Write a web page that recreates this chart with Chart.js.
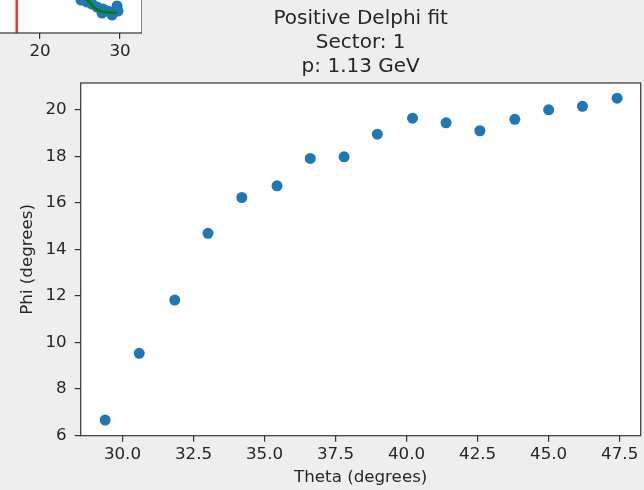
<!DOCTYPE html>
<html>
<head>
<meta charset="utf-8">
<script src="https://cdn.jsdelivr.net/npm/chart.js@4/dist/chart.umd.min.js"></script>
<style>
  html, body { margin: 0; padding: 0; background: #eeeeee; overflow: hidden; }
  #wrap { position: relative; width: 644px; height: 490px; }
  #mainChart { position: absolute; left: 0; top: 0; }
  #insetChart { position: absolute; left: -40px; top: -87px; }
</style>
</head>
<body>
<div id="wrap">
  <canvas id="mainChart" width="644" height="490"></canvas>
  <canvas id="insetChart" width="182" height="160"></canvas>
</div>
<script>
// main plot: phi vs theta
const thetas = [29.39, 30.59, 31.84, 33.01, 34.20, 35.44, 36.61, 37.80, 38.97, 40.21, 41.39, 42.58, 43.81, 45.00, 46.19, 47.41];
const phis = [6.66, 9.53, 11.82, 14.69, 16.23, 16.73, 17.91, 17.98, 18.95, 19.64, 19.44, 19.10, 19.59, 20.00, 20.15, 20.50];
const xTicks = [30, 32.5, 35, 37.5, 40, 42.5, 45, 47.5];
const yTicks = [6, 8, 10, 12, 14, 16, 18, 20];
const titleLines = ['Positive Delphi fit', 'Sector: 1', 'p: 1.13 GeV'];

// cropped neighbour plot at the top left
const insetThetas = [25.13, 25.88, 26.5, 27.13, 27.88, 28.5, 29.13, 29.63, 29.75, 29.0, 27.75];
const insetPhis = [6.6, 6.2, 5.8, 5.2, 4.8, 4.4, 4.2, 5.4, 4.4, 3.6, 4.0];
const insetFitX = [25.63, 26.25, 27.0, 28.0, 29.63];
const insetFitY = [7.0, 6.0, 4.8, 4.2, 4.0];
const insetCut = 17.09;
const insetTicks = [20, 30];

const FONT = 'DejaVu Sans';
const INK = '#262626';
const BLUE = '#1f77b4';

const framePlugin = {
  id: 'frame',
  beforeDatasetsDraw(chart) {
    const a = chart.chartArea, c = chart.ctx;
    c.save();
    c.fillStyle = '#ffffff';
    c.fillRect(a.left, a.top, a.right - a.left, a.bottom - a.top);
    c.restore();
  },
  afterDraw(chart) {
    const a = chart.chartArea, c = chart.ctx;
    c.save();
    c.strokeStyle = '#333333';
    c.lineWidth = 1.2;
    c.strokeRect(a.left, a.top, a.right - a.left, a.bottom - a.top);
    c.restore();
  }
};

// fixed axis sizes, no extra label padding
function fixHeight(h) {
  return s => { s.height = h; s.paddingLeft = 0; s.paddingRight = 0; };
}
function fixWidth(w) {
  return s => { s.width = w; s.paddingTop = 0; s.paddingBottom = 0; };
}

const tickFont = { family: FONT, size: 16.7, lineHeight: 1.2 };

new Chart(document.getElementById('mainChart'), {
  type: 'scatter',
  data: {
    datasets: [{
      data: thetas.map((t, i) => ({ x: t, y: phis[i] })),
      backgroundColor: BLUE,
      borderWidth: 0,
      pointRadius: 5.5
    }]
  },
  options: {
    responsive: false,
    animation: false,
    layout: { autoPadding: false, padding: { left: 0, right: 3.3, top: 0, bottom: 0 } },
    plugins: {
      legend: { display: false },
      tooltip: { enabled: false },
      title: {
        display: true,
        text: titleLines,
        fullSize: false,
        color: INK,
        font: { family: FONT, size: 20, weight: 'normal', lineHeight: 1.2 },
        padding: { top: 7, bottom: 4 }
      }
    },
    scales: {
      x: {
        type: 'linear',
        min: 28.53,
        max: 48.24,
        afterFit: fixHeight(54.3),
        afterBuildTicks: s => { s.ticks = xTicks.map(v => ({ value: v })); },
        grid: { drawOnChartArea: false, drawTicks: true, tickLength: 6, color: '#333333', lineWidth: 1.2 },
        border: { display: false },
        ticks: { padding: 3, color: INK, font: tickFont, callback: v => v.toFixed(1) },
        title: { display: true, text: 'Theta (degrees)', color: INK, font: tickFont, padding: { top: 0, bottom: 2 } }
      },
      y: {
        type: 'linear',
        min: 5.987,
        max: 21.153,
        afterFit: fixWidth(80.7),
        afterBuildTicks: s => { s.ticks = yTicks.map(v => ({ value: v })); },
        grid: { drawOnChartArea: false, drawTicks: true, tickLength: 6, color: '#333333', lineWidth: 1.2 },
        border: { display: false },
        ticks: { padding: 8, color: INK, font: tickFont },
        title: { display: true, text: 'Phi (degrees)', color: INK, font: tickFont, padding: { top: 18, bottom: 0 } }
      }
    }
  },
  plugins: [framePlugin]
});

new Chart(document.getElementById('insetChart'), {
  type: 'scatter',
  data: {
    datasets: [
      {
        type: 'line',
        data: insetFitX.map((t, i) => ({ x: t, y: insetFitY[i] })),
        borderColor: '#008000',
        borderWidth: 2.5,
        pointRadius: 0,
        tension: 0.4,
        order: 0
      },
      {
        data: insetThetas.map((t, i) => ({ x: t, y: insetPhis[i] })),
        backgroundColor: BLUE,
        borderWidth: 0,
        pointRadius: 5.5,
        order: 1
      },
      {
        type: 'line',
        data: [{ x: insetCut, y: 0 }, { x: insetCut, y: 24 }],
        borderColor: '#ff2a2a',
        borderWidth: 2.5,
        pointRadius: 0,
        order: 2
      }
    ]
  },
  options: {
    responsive: false,
    animation: false,
    layout: { autoPadding: false, padding: 0 },
    plugins: { legend: { display: false }, tooltip: { enabled: false } },
    scales: {
      x: {
        type: 'linear',
        min: 10,
        max: 32.75,
        afterFit: fixHeight(40),
        afterBuildTicks: s => { s.ticks = insetTicks.map(v => ({ value: v })); },
        grid: { drawOnChartArea: false, drawTicks: true, tickLength: 6, color: '#333333', lineWidth: 1.2 },
        border: { display: false },
        ticks: { padding: 3, color: INK, font: tickFont }
      },
      y: { type: 'linear', min: 0, max: 24, display: false }
    }
  },
  plugins: [framePlugin]
});
</script>
</body>
</html>
